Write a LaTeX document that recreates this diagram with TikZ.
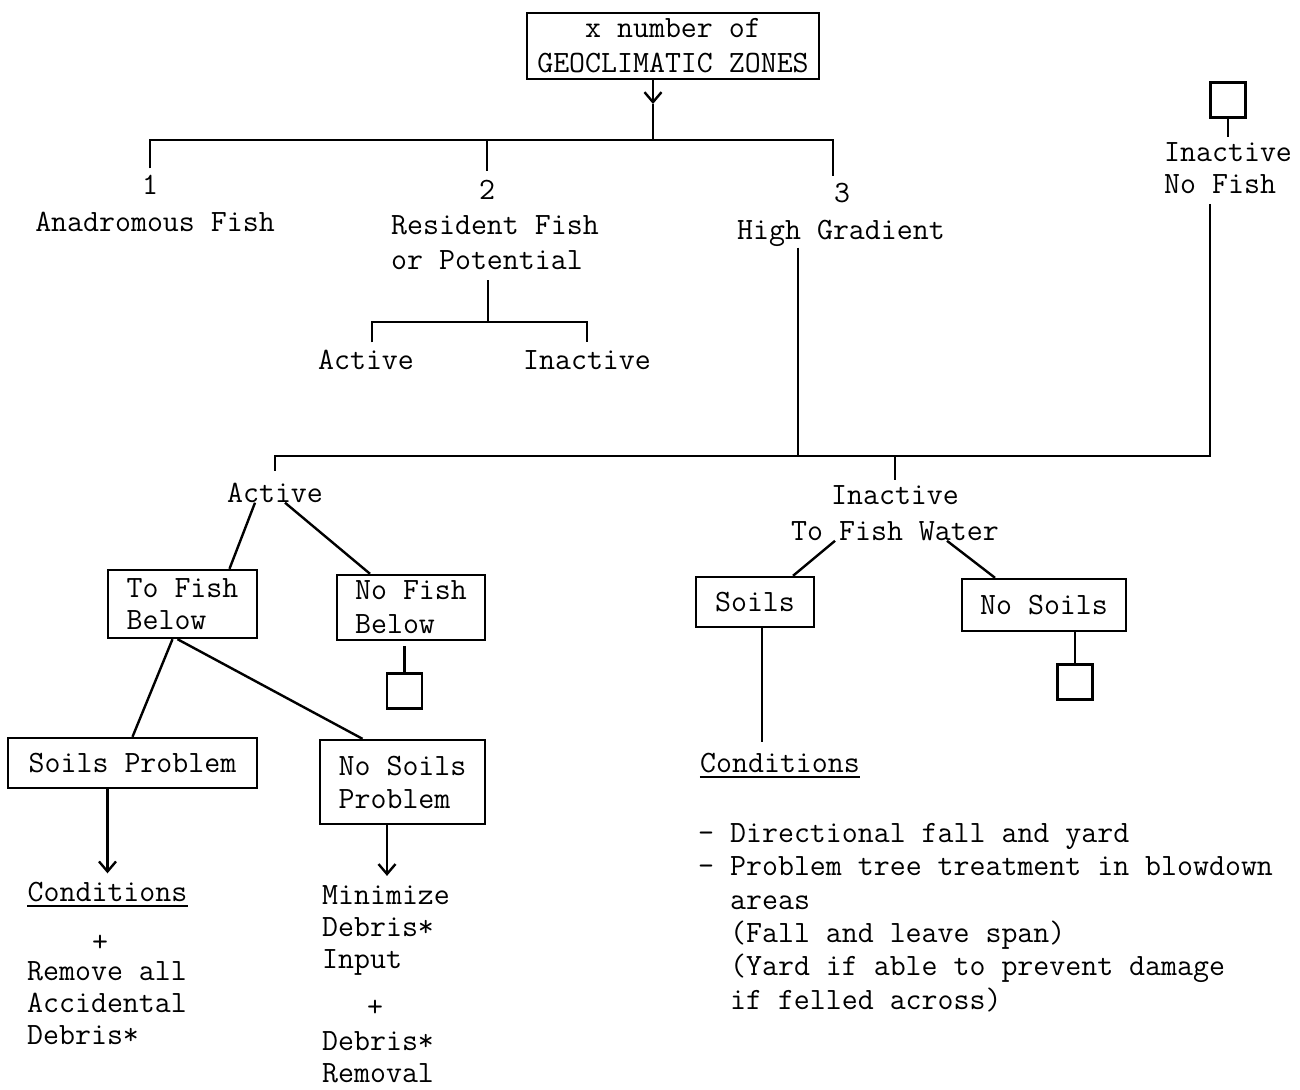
\documentclass[tikz,border=0pt]{standalone}
\usepackage{fontspec}
\usepackage{tikz}
\usetikzlibrary{arrows.meta}
\newcommand{\tyfont}{\fontsize{31}{32}\selectfont\ttfamily}

\begin{document}
\begin{tikzpicture}[x=1pt,y=-1pt,
  every node/.style={font=\tyfont, inner sep=0pt},
  conn/.style={line width=2.4pt},
  arr/.style={line width=2.4pt, -{Straight Barb[length=10pt,width=17pt]}},
  lbl/.style={text height=19pt, text depth=0pt},
  box/.style={draw, line width=2.4pt, align=left},
  blank/.style={draw, line width=2.4pt, minimum size=35pt}]
  \useasboundingbox (0,0) rectangle (1300,1089);

  \node[box, minimum width=292pt, minimum height=66pt, align=center] (zones) at (673,46) {x number of\\[3pt]GEOCLIMATIC ZONES};
  \coordinate (ztip) at (653,104);
  \coordinate (zsplit) at (653,140);

  \node[lbl] (one) at (150,185) {1};
  \node[lbl] (anad) at (155,222) {Anadromous Fish};
  \node[lbl] (two) at (487,190) {2};
  \node[align=left, anchor=west] (resident) at (391,243) {Resident Fish\\[3pt]or Potential};
  \node[lbl] (three) at (842,193) {3};
  \node[lbl] (highgr) at (841,230) {High Gradient};
  \node[lbl] (ractive) at (366,360) {Active};
  \node[lbl] (rinactive) at (587,360) {Inactive};
  \coordinate (rsplit) at (488,322);

  \node[blank] (topsq) at (1228,100) {};
  \node[align=left, anchor=west] (inofish) at (1164,168) {Inactive\\No Fish};
  \coordinate (hgsplit) at (798,456);
  \coordinate (nfsplit) at (1210,456);

  \node[lbl] (active) at (275,493) {Active};
  \node[align=center] (inactive) at (895,513) {Inactive\\[4pt]To Fish Water};

  \node[box, minimum width=149pt, minimum height=68pt] (tofish) at (182.5,604) {To Fish\\Below};
  \node[box, minimum width=148pt, minimum height=65pt] (nofish) at (411,607.5) {No Fish\\[2pt]Below};
  \node[blank] (sqnofish) at (404.5,691) {};
  \node[box, minimum width=249pt, minimum height=50pt] (soilsprob) at (132.5,763) {Soils Problem};
  \node[box, minimum width=165pt, minimum height=84pt] (nosoilsprob) at (402.5,782) {No Soils\\[1pt]Problem};

  \node[lbl] (condleft) at (107.5,892) {Conditions};
  \node[lbl] (plusleft) at (100,942) {+};
  \node[align=left, anchor=west] (removeall) at (27,1003) {Remove all\\Accidental\\Debris*};
  \node[align=left, anchor=west] (minimize) at (322,930) {Minimize\\Debris*\\Input};
  \node[lbl] (plusright) at (375,1007) {+};
  \node[align=left, anchor=west] (removal) at (322,1057.5) {Debris*\\Removal};

  \node[box, minimum width=118pt, minimum height=50pt] (soils) at (755,602) {Soils};
  \node[box, minimum width=164pt, minimum height=52pt] (nosoils) at (1044,605) {No Soils};
  \node[blank] (sqnosoils) at (1075,682) {};
  \node[lbl] (condright) at (780,763) {Conditions};
  \node[align=left, anchor=north west, font=\fontsize{31}{33.4}\selectfont\ttfamily] (condlist) at (698,823)
    {- Directional fall and yard\\- Problem tree treatment in blowdown\\\phantom{-~}areas\\\phantom{-~}(Fall and leave span)\\\phantom{-~}(Yard if able to prevent damage\\\phantom{-~}if felled across)};

  \draw[arr] (zones.south -| ztip) -- (ztip);
  \draw[conn] (ztip) -- (zsplit);
  \draw[conn] ([yshift=7pt]one.north) |- (zsplit) -| ([xshift=-9pt,yshift=7pt]three.north);
  \draw[conn] (zsplit -| two) -- ([yshift=9pt]two.north);
  \draw[conn] ([yshift=-10pt]resident.south -| rsplit) -- (rsplit);
  \draw[conn] ([xshift=6pt,yshift=8pt]ractive.north) |- (rsplit) -| ([yshift=8pt]rinactive.north);

  \draw[conn] (topsq) -- ([yshift=5pt]inofish.north -| topsq);
  \draw[conn] ([yshift=-10pt]inofish.south -| nfsplit) -- (nfsplit) -| ([yshift=12pt]active.north);
  \draw[conn] ([yshift=-8pt]highgr.south -| hgsplit) -- (hgsplit);
  \draw[conn] (hgsplit -| inactive) -- ([yshift=5pt]inactive.north);

  \path[conn]
  ([xshift=-20pt]active.south) edge ([xshift=47pt]tofish.north)
  ([xshift=10pt]active.south) edge ([xshift=-41pt]nofish.north)
  ([xshift=-10pt]tofish.south) edge (soilsprob.north)
  ([xshift=-5pt]tofish.south) edge ([xshift=-40pt]nosoilsprob.north)
  ([xshift=-60pt]inactive.south) edge ([xshift=38pt]soils.north)
  ([xshift=52pt]inactive.south) edge ([xshift=-49pt]nosoils.north)
  ;
  \draw[conn] ([yshift=-5pt]nofish.south -| sqnofish) -- (sqnofish);
  \draw[arr] (soilsprob.south -| condleft) -- ([yshift=9pt]condleft.north);
  \draw[line width=1.6pt] ([yshift=-4pt]condleft.south west) -- ([yshift=-4pt]condleft.south east);
  \draw[arr] ([xshift=-15.5pt]nosoilsprob.south) -- ([xshift=-15.5pt,yshift=9pt]nosoilsprob.south |- minimize.north);
  \draw[conn] ([xshift=7pt]soils.south) -- ([xshift=7pt,yshift=11pt]soils.south |- condright.north);
  \draw[line width=1.6pt] ([yshift=-4pt]condright.south west) -- ([yshift=-4pt]condright.south east);
  \draw[conn] (nosoils.south -| sqnosoils) -- (sqnosoils);
\end{tikzpicture}
\end{document}
